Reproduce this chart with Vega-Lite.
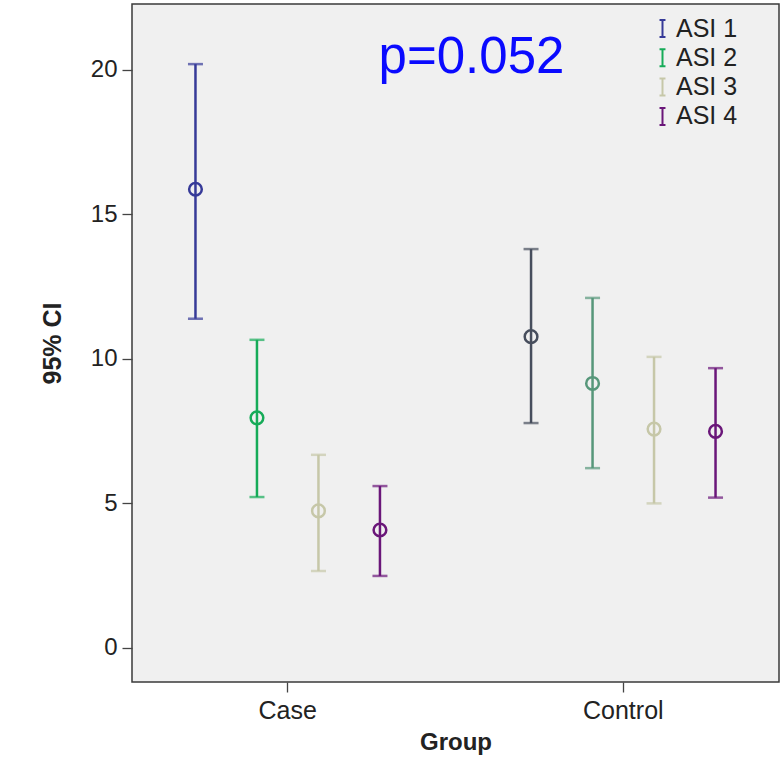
{
  "$schema": "https://vega.github.io/schema/vega-lite/v6.json",
  "autosize": "none",
  "width": 647,
  "height": 678,
  "padding": {"left": 132, "top": 4, "right": 3, "bottom": 75},
  "background": "white",
  "config": {
    "font": "Liberation Sans",
    "view": {"fill": "#f0f0f0", "stroke": "#3a3a3a", "strokeWidth": 1.5},
    "axis": {"grid": false, "domain": false, "tickColor": "#444", "tickWidth": 1.3, "labelColor": "#222", "titleColor": "#222"}
  },
  "data": {
    "values": [
      {"Group": "Case", "ASI": "ASI 1", "mean": 15.87, "lower": 11.39, "upper": 20.2},
      {"Group": "Case", "ASI": "ASI 2", "mean": 7.96, "lower": 5.22, "upper": 10.66},
      {"Group": "Case", "ASI": "ASI 3", "mean": 4.74, "lower": 2.66, "upper": 6.68},
      {"Group": "Case", "ASI": "ASI 4", "mean": 4.08, "lower": 2.49, "upper": 5.6},
      {"Group": "Control", "ASI": "ASI 1", "mean": 10.77, "lower": 7.78, "upper": 13.8},
      {"Group": "Control", "ASI": "ASI 2", "mean": 9.15, "lower": 6.22, "upper": 12.11},
      {"Group": "Control", "ASI": "ASI 3", "mean": 7.57, "lower": 5.0, "upper": 10.07},
      {"Group": "Control", "ASI": "ASI 4", "mean": 7.49, "lower": 5.2, "upper": 9.68}
    ]
  },
  "transform": [{"calculate": "datum.Group + ' ' + datum.ASI", "as": "key"}],
  "encoding": {
    "x": {
      "field": "Group", "type": "nominal",
      "scale": {"type": "band", "paddingInner": 0.267, "paddingOuter": 0.0975},
      "axis": {"labelAngle": 0, "tickSize": 10, "labelPadding": 6, "labelFontSize": 25, "title": "Group", "titleFontSize": 24, "titleFontWeight": "bold", "titlePadding": 7, "tickBand": "center"}
    },
    "xOffset": {"field": "ASI", "type": "nominal", "scale": {"paddingInner": 0, "paddingOuter": 0}},
    "color": {
      "field": "key", "type": "nominal",
      "scale": {
        "domain": ["Case ASI 1", "Case ASI 2", "Case ASI 3", "Case ASI 4", "Control ASI 1", "Control ASI 2", "Control ASI 3", "Control ASI 4"],
        "range": ["#363a98", "#16ab58", "#c6c7a8", "#6a1679", "#474e5d", "#57977a", "#c6c7a8", "#6a1679"]
      },
      "legend": {
        "values": ["Case ASI 1", "Case ASI 2", "Case ASI 3", "Case ASI 4"],
        "labelExpr": "replace(datum.label, 'Case ', '')",
        "title": null,
        "orient": "none",
        "legendX": 518,
        "legendY": 12,
        "padding": 0,
        "symbolType": "M-0.35,-1H0.35M0,-1V1M-0.35,1H0.35",
        "symbolSize": 289,
        "symbolStrokeWidth": 2,
        "symbolOpacity": 1,
        "symbolFillColor": "transparent",
        "labelFontSize": 25,
        "labelColor": "#222",
        "labelOffset": 1,
        "rowPadding": 3.3
      }
    }
  },
  "layer": [
    {
      "mark": {"type": "rule", "strokeWidth": 2.5},
      "encoding": {
        "y": {"field": "lower", "type": "quantitative", "scale": {"domain": [-1.18, 22.28], "nice": false, "zero": false},
          "axis": {"values": [0, 5, 10, 15, 20], "tickSize": 10, "labelPadding": 5, "labelFontSize": 24, "title": "95% CI", "titleFontSize": 25, "titleFontWeight": "bold", "titlePadding": 25}},
        "y2": {"field": "upper"}
      }
    },
    {
      "mark": {"type": "tick", "thickness": 2.5, "size": 15},
      "encoding": {"y": {"field": "lower", "type": "quantitative"}}
    },
    {
      "mark": {"type": "tick", "thickness": 2.5, "size": 15},
      "encoding": {"y": {"field": "upper", "type": "quantitative"}}
    },
    {
      "mark": {"type": "point", "filled": false, "strokeWidth": 2.5, "size": 160, "opacity": 1},
      "encoding": {
        "y": {"field": "mean", "type": "quantitative"}
      }
    },
    {
      "data": {"values": [{"label": "p=0.052", "ypos": 19.9}]},
      "mark": {"type": "text", "fontSize": 51, "color": "#0a0aff", "dx": 16, "baseline": "alphabetic", "align": "center"},
      "encoding": {
        "y": {"field": "ypos", "type": "quantitative"},
        "text": {"field": "label"},
        "x": null, "xOffset": null, "color": null
      }
    }
  ]
}
